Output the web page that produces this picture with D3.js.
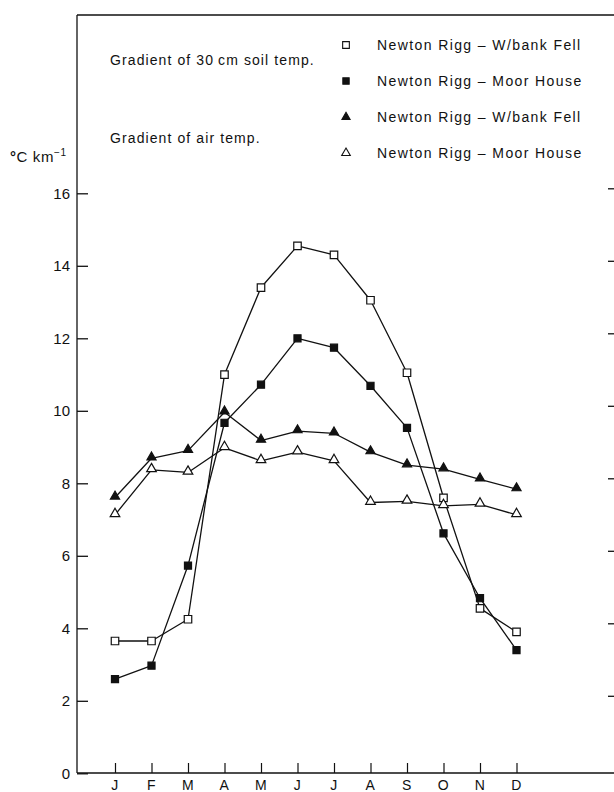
<!DOCTYPE html>
<html>
<head>
<meta charset="utf-8">
<script src="https://cdn.jsdelivr.net/npm/d3@7/dist/d3.min.js"></script>
<style>
  html, body { margin: 0; padding: 0; background: #fff; }
  svg { display: block; }
  text { font-family: "Liberation Sans", Arial, Helvetica, sans-serif; fill: #111; }
</style>
</head>
<body>
<svg id="chart" width="614" height="792"></svg>
<script>
// Monthly lapse-rate gradients, °C per km
const months = ["Jan", "Feb", "Mar", "Apr", "May", "Jun", "Jul", "Aug", "Sep", "Oct", "Nov", "Dec"];
const monthLabels = ["J", "F", "M", "A", "M", "J", "J", "A", "S", "O", "N", "D"];
const yTicks = [0, 2, 4, 6, 8, 10, 12, 14, 16];

// Gradient of 30 cm soil temperature
const soilWbank = [3.65, 3.65, 4.25, 11.0, 13.4, 14.55, 14.3, 13.05, 11.05, 7.6, 4.55, 3.9];
const soilMoor  = [2.6, 2.97, 5.73, 9.67, 10.72, 12.0, 11.74, 10.69, 9.53, 6.62, 4.83, 3.4];
// Gradient of air temperature
const airWbank  = [7.61, 8.69, 8.9, 9.96, 9.18, 9.44, 9.38, 8.86, 8.5, 8.39, 8.11, 7.84];
const airMoor   = [7.13, 8.37, 8.3, 8.98, 8.62, 8.86, 8.62, 7.47, 7.5, 7.38, 7.42, 7.13];

const seriesNames = [
  "Newton Rigg \u2013 W/bank Fell",
  "Newton Rigg \u2013 Moor House",
  "Newton Rigg \u2013 W/bank Fell",
  "Newton Rigg \u2013 Moor House"
];
const groupLabels = ["Gradient of 30\u2009cm soil temp.", "Gradient of air temp."];

const series = [
  { name: seriesNames[0], values: soilWbank, shape: d3.symbolSquare,   filled: false, size: 56 },
  { name: seriesNames[1], values: soilMoor,  shape: d3.symbolSquare,   filled: true,  size: 50 },
  { name: seriesNames[2], values: airWbank,  shape: d3.symbolTriangle, filled: true,  size: 36 },
  { name: seriesNames[3], values: airMoor,   shape: d3.symbolTriangle, filled: false, size: 40 }
];

const svg = d3.select("#chart");
const ink = "#111";

const frame = { left: 77, right: 614, top: 15, bottom: 773 };

const x = d3.scalePoint().domain(months).range([115, 516.5]);
const y = d3.scaleLinear().domain([0, 16]).range([773.3, 193.3]);

// frame: left axis, top rule, bottom axis
svg.append("line")
  .attr("x1", frame.left).attr("x2", frame.left)
  .attr("y1", frame.top).attr("y2", frame.bottom)
  .attr("stroke", ink).attr("stroke-width", 1.3);
svg.append("line")
  .attr("x1", frame.left).attr("x2", frame.right)
  .attr("y1", frame.top).attr("y2", frame.top)
  .attr("stroke", ink).attr("stroke-width", 1.3);
svg.append("line")
  .attr("x1", frame.left).attr("x2", frame.right)
  .attr("y1", frame.bottom).attr("y2", frame.bottom)
  .attr("stroke", ink).attr("stroke-width", 1.6);

// left axis: inward ticks, labels outside
const yAxis = svg.append("g")
  .attr("transform", `translate(${frame.left},0)`)
  .call(d3.axisRight(y).tickValues(yTicks).tickSize(11).tickFormat(""));
yAxis.select(".domain").remove();
yAxis.selectAll(".tick line").attr("stroke", ink).attr("stroke-width", 1.3);

svg.append("g").selectAll("text")
  .data(yTicks)
  .join("text")
  .attr("x", frame.left - 7)
  .attr("y", d => y(d))
  .attr("dy", "0.36em")
  .attr("text-anchor", "end")
  .style("font-size", "15px")
  .text(d => d);

// right-hand ticks on the frame edge
const yRight = svg.append("g")
  .attr("transform", `translate(${frame.right},-5)`)
  .call(d3.axisLeft(y).tickValues(yTicks.slice(1)).tickSize(6).tickFormat(""));
yRight.select(".domain").remove();
yRight.selectAll(".tick line").attr("stroke", ink).attr("stroke-width", 1.3);

// bottom axis: upward month ticks
const xAxis = svg.append("g")
  .attr("transform", `translate(0,${frame.bottom})`)
  .call(d3.axisTop(x).tickSize(10).tickFormat(""));
xAxis.select(".domain").remove();
xAxis.selectAll(".tick line").attr("stroke", ink).attr("stroke-width", 1.2);

svg.append("g").selectAll("text")
  .data(months)
  .join("text")
  .attr("x", d => x(d))
  .attr("y", 790)
  .attr("text-anchor", "middle")
  .style("font-size", "14px")
  .style("letter-spacing", "0.5px")
  .text((d, i) => monthLabels[i]);

// y-axis unit
const unit = svg.append("text")
  .attr("x", 10)
  .attr("y", 162)
  .style("font-size", "15px")
  .style("letter-spacing", "0.6px");
unit.append("tspan").style("font-weight", "bold").text("\u00b0");
unit.append("tspan").text("C km");
unit.append("tspan").attr("dy", -6).style("font-size", "10px").text("\u22121");

// series lines
const line = d3.line()
  .x((d, i) => x(months[i]))
  .y(d => y(d));

svg.append("g").selectAll("path")
  .data(series)
  .join("path")
  .attr("d", s => line(s.values))
  .attr("fill", "none")
  .attr("stroke", ink)
  .attr("stroke-width", 1.3)
  .attr("stroke-linejoin", "round");

// series markers
const markers = svg.append("g");
series.forEach(s => {
  const sym = d3.symbol().type(s.shape).size(s.size);
  markers.append("g").selectAll("path")
    .data(s.values)
    .join("path")
    .attr("d", sym)
    .attr("transform", (d, i) => `translate(${x(months[i])},${y(d) + (s.shape === d3.symbolTriangle ? -1 : 0)})`)
    .attr("fill", s.filled ? ink : "#fff")
    .attr("stroke", ink)
    .attr("stroke-width", 1.2);
});

// legend
const legendRows = [45, 81, 117, 153];
const legend = svg.append("g");
series.forEach((s, i) => {
  legend.append("path")
    .attr("d", d3.symbol().type(s.shape).size(s.size * 0.8))
    .attr("transform", `translate(346,${legendRows[i]})`)
    .attr("fill", s.filled ? ink : "#fff")
    .attr("stroke", ink)
    .attr("stroke-width", 1.1);
  legend.append("text")
    .attr("x", 377)
    .attr("y", legendRows[i])
    .attr("dy", "0.36em")
    .style("font-size", "14px")
    .style("letter-spacing", "1.4px")
    .text(s.name);
});

legend.selectAll("text.group")
  .data(groupLabels)
  .join("text")
  .attr("class", "group")
  .attr("x", 110)
  .attr("y", (d, i) => [60, 138][i])
  .attr("dy", "0.36em")
  .style("font-size", "14px")
  .style("letter-spacing", "1.1px")
  .text(d => d);
</script>
</body>
</html>
